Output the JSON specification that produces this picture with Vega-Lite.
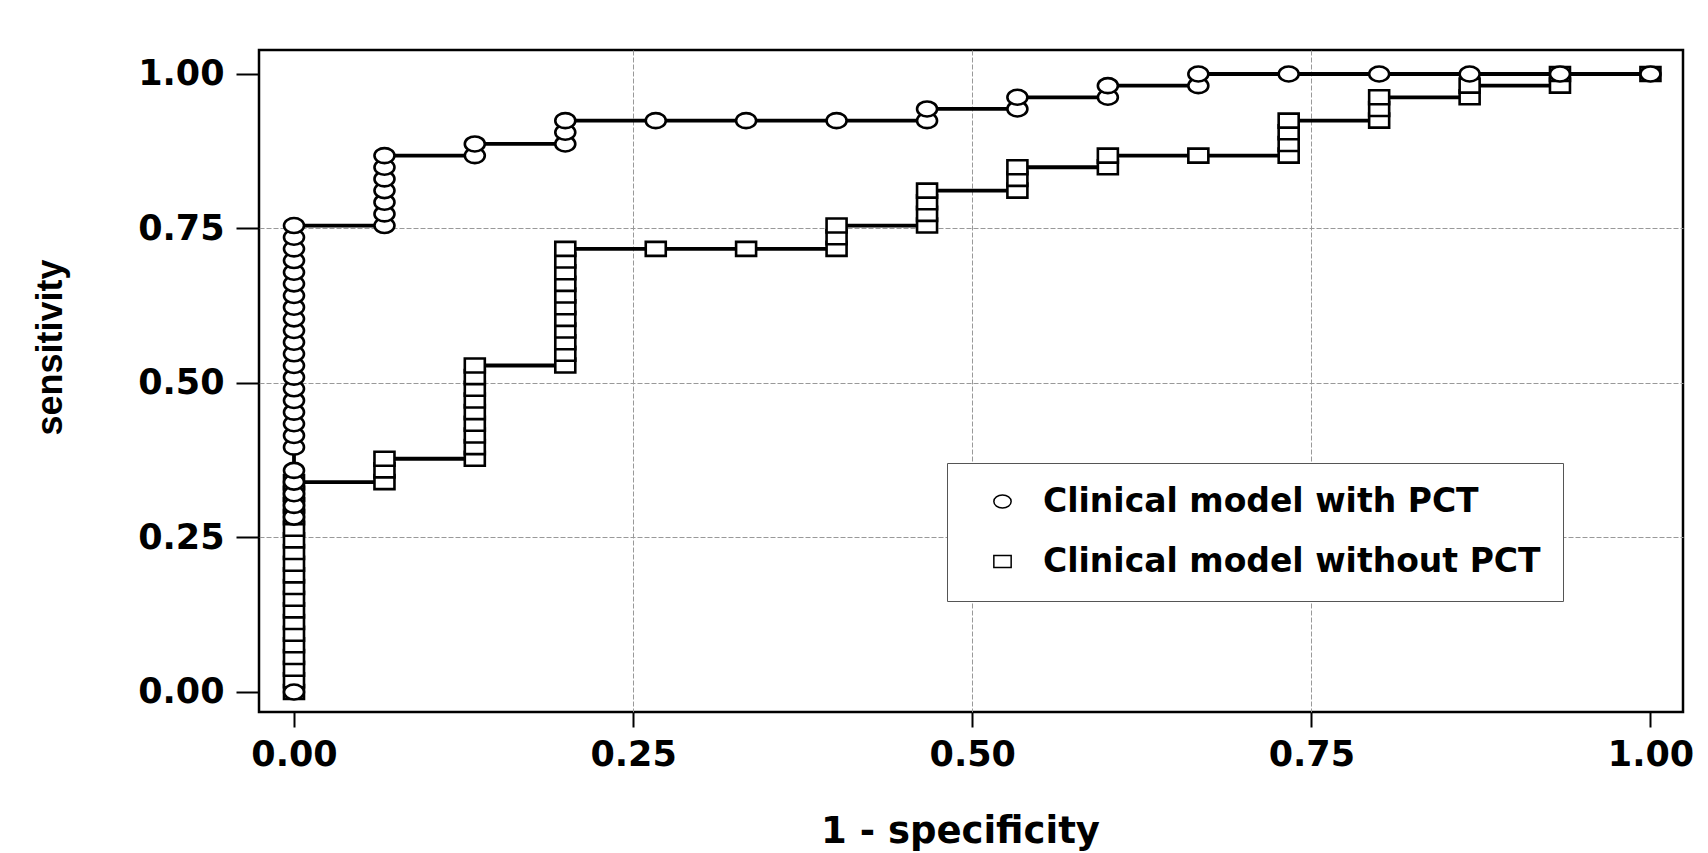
{
  "$schema": "https://vega.github.io/schema/vega-lite/v6.json",
  "width": 1424,
  "height": 662,
  "autosize": {"type": "none"},
  "padding": {"left": 259, "top": 50, "right": 25, "bottom": 141},
  "background": "white",
  "config": {
    "view": {"stroke": "black", "strokeWidth": 2.5},
    "axis": {
      "domain": false,
      "labelFont": "DejaVu Sans",
      "labelFontWeight": "bold",
      "labelFontSize": 35,
      "labelColor": "black",
      "tickColor": "black",
      "tickWidth": 2,
      "grid": true,
      "gridColor": "#999999",
      "gridWidth": 1,
      "gridDash": [5, 2],
      "titleColor": "black"
    }
  },
  "datasets": {
    "roc": [
      {"model": "Clinical model without PCT", "fpr": 0, "sens": 0},
      {"model": "Clinical model without PCT", "fpr": 0, "sens": 0.0189},
      {"model": "Clinical model without PCT", "fpr": 0, "sens": 0.0377},
      {"model": "Clinical model without PCT", "fpr": 0, "sens": 0.0566},
      {"model": "Clinical model without PCT", "fpr": 0, "sens": 0.0755},
      {"model": "Clinical model without PCT", "fpr": 0, "sens": 0.0943},
      {"model": "Clinical model without PCT", "fpr": 0, "sens": 0.1132},
      {"model": "Clinical model without PCT", "fpr": 0, "sens": 0.1321},
      {"model": "Clinical model without PCT", "fpr": 0, "sens": 0.1509},
      {"model": "Clinical model without PCT", "fpr": 0, "sens": 0.1698},
      {"model": "Clinical model without PCT", "fpr": 0, "sens": 0.1887},
      {"model": "Clinical model without PCT", "fpr": 0, "sens": 0.2075},
      {"model": "Clinical model without PCT", "fpr": 0, "sens": 0.2264},
      {"model": "Clinical model without PCT", "fpr": 0, "sens": 0.2453},
      {"model": "Clinical model without PCT", "fpr": 0, "sens": 0.2642},
      {"model": "Clinical model without PCT", "fpr": 0, "sens": 0.2830},
      {"model": "Clinical model without PCT", "fpr": 0, "sens": 0.3019},
      {"model": "Clinical model without PCT", "fpr": 0, "sens": 0.3208},
      {"model": "Clinical model without PCT", "fpr": 0, "sens": 0.3396},
      {"model": "Clinical model without PCT", "fpr": 0.0667, "sens": 0.3396},
      {"model": "Clinical model without PCT", "fpr": 0.0667, "sens": 0.3585},
      {"model": "Clinical model without PCT", "fpr": 0.0667, "sens": 0.3774},
      {"model": "Clinical model without PCT", "fpr": 0.1333, "sens": 0.3774},
      {"model": "Clinical model without PCT", "fpr": 0.1333, "sens": 0.3962},
      {"model": "Clinical model without PCT", "fpr": 0.1333, "sens": 0.4151},
      {"model": "Clinical model without PCT", "fpr": 0.1333, "sens": 0.4340},
      {"model": "Clinical model without PCT", "fpr": 0.1333, "sens": 0.4528},
      {"model": "Clinical model without PCT", "fpr": 0.1333, "sens": 0.4717},
      {"model": "Clinical model without PCT", "fpr": 0.1333, "sens": 0.4906},
      {"model": "Clinical model without PCT", "fpr": 0.1333, "sens": 0.5094},
      {"model": "Clinical model without PCT", "fpr": 0.1333, "sens": 0.5283},
      {"model": "Clinical model without PCT", "fpr": 0.2, "sens": 0.5283},
      {"model": "Clinical model without PCT", "fpr": 0.2, "sens": 0.5472},
      {"model": "Clinical model without PCT", "fpr": 0.2, "sens": 0.5660},
      {"model": "Clinical model without PCT", "fpr": 0.2, "sens": 0.5849},
      {"model": "Clinical model without PCT", "fpr": 0.2, "sens": 0.6038},
      {"model": "Clinical model without PCT", "fpr": 0.2, "sens": 0.6226},
      {"model": "Clinical model without PCT", "fpr": 0.2, "sens": 0.6415},
      {"model": "Clinical model without PCT", "fpr": 0.2, "sens": 0.6604},
      {"model": "Clinical model without PCT", "fpr": 0.2, "sens": 0.6792},
      {"model": "Clinical model without PCT", "fpr": 0.2, "sens": 0.6981},
      {"model": "Clinical model without PCT", "fpr": 0.2, "sens": 0.7170},
      {"model": "Clinical model without PCT", "fpr": 0.2667, "sens": 0.7170},
      {"model": "Clinical model without PCT", "fpr": 0.3333, "sens": 0.7170},
      {"model": "Clinical model without PCT", "fpr": 0.4, "sens": 0.7170},
      {"model": "Clinical model without PCT", "fpr": 0.4, "sens": 0.7358},
      {"model": "Clinical model without PCT", "fpr": 0.4, "sens": 0.7547},
      {"model": "Clinical model without PCT", "fpr": 0.4667, "sens": 0.7547},
      {"model": "Clinical model without PCT", "fpr": 0.4667, "sens": 0.7736},
      {"model": "Clinical model without PCT", "fpr": 0.4667, "sens": 0.7925},
      {"model": "Clinical model without PCT", "fpr": 0.4667, "sens": 0.8113},
      {"model": "Clinical model without PCT", "fpr": 0.5333, "sens": 0.8113},
      {"model": "Clinical model without PCT", "fpr": 0.5333, "sens": 0.8302},
      {"model": "Clinical model without PCT", "fpr": 0.5333, "sens": 0.8491},
      {"model": "Clinical model without PCT", "fpr": 0.6, "sens": 0.8491},
      {"model": "Clinical model without PCT", "fpr": 0.6, "sens": 0.8679},
      {"model": "Clinical model without PCT", "fpr": 0.6667, "sens": 0.8679},
      {"model": "Clinical model without PCT", "fpr": 0.7333, "sens": 0.8679},
      {"model": "Clinical model without PCT", "fpr": 0.7333, "sens": 0.8868},
      {"model": "Clinical model without PCT", "fpr": 0.7333, "sens": 0.9057},
      {"model": "Clinical model without PCT", "fpr": 0.7333, "sens": 0.9245},
      {"model": "Clinical model without PCT", "fpr": 0.8, "sens": 0.9245},
      {"model": "Clinical model without PCT", "fpr": 0.8, "sens": 0.9434},
      {"model": "Clinical model without PCT", "fpr": 0.8, "sens": 0.9623},
      {"model": "Clinical model without PCT", "fpr": 0.8667, "sens": 0.9623},
      {"model": "Clinical model without PCT", "fpr": 0.8667, "sens": 0.9811},
      {"model": "Clinical model without PCT", "fpr": 0.9333, "sens": 0.9811},
      {"model": "Clinical model without PCT", "fpr": 0.9333, "sens": 1},
      {"model": "Clinical model without PCT", "fpr": 1, "sens": 1},
      {"model": "Clinical model with PCT", "fpr": 0, "sens": 0},
      {"model": "Clinical model with PCT", "fpr": 0, "sens": 0.2830},
      {"model": "Clinical model with PCT", "fpr": 0, "sens": 0.3019},
      {"model": "Clinical model with PCT", "fpr": 0, "sens": 0.3208},
      {"model": "Clinical model with PCT", "fpr": 0, "sens": 0.3396},
      {"model": "Clinical model with PCT", "fpr": 0, "sens": 0.3585},
      {"model": "Clinical model with PCT", "fpr": 0, "sens": 0.3962},
      {"model": "Clinical model with PCT", "fpr": 0, "sens": 0.4151},
      {"model": "Clinical model with PCT", "fpr": 0, "sens": 0.4340},
      {"model": "Clinical model with PCT", "fpr": 0, "sens": 0.4528},
      {"model": "Clinical model with PCT", "fpr": 0, "sens": 0.4717},
      {"model": "Clinical model with PCT", "fpr": 0, "sens": 0.4906},
      {"model": "Clinical model with PCT", "fpr": 0, "sens": 0.5094},
      {"model": "Clinical model with PCT", "fpr": 0, "sens": 0.5283},
      {"model": "Clinical model with PCT", "fpr": 0, "sens": 0.5472},
      {"model": "Clinical model with PCT", "fpr": 0, "sens": 0.5660},
      {"model": "Clinical model with PCT", "fpr": 0, "sens": 0.5849},
      {"model": "Clinical model with PCT", "fpr": 0, "sens": 0.6038},
      {"model": "Clinical model with PCT", "fpr": 0, "sens": 0.6226},
      {"model": "Clinical model with PCT", "fpr": 0, "sens": 0.6415},
      {"model": "Clinical model with PCT", "fpr": 0, "sens": 0.6604},
      {"model": "Clinical model with PCT", "fpr": 0, "sens": 0.6792},
      {"model": "Clinical model with PCT", "fpr": 0, "sens": 0.6981},
      {"model": "Clinical model with PCT", "fpr": 0, "sens": 0.7170},
      {"model": "Clinical model with PCT", "fpr": 0, "sens": 0.7358},
      {"model": "Clinical model with PCT", "fpr": 0, "sens": 0.7547},
      {"model": "Clinical model with PCT", "fpr": 0.0667, "sens": 0.7547},
      {"model": "Clinical model with PCT", "fpr": 0.0667, "sens": 0.7736},
      {"model": "Clinical model with PCT", "fpr": 0.0667, "sens": 0.7925},
      {"model": "Clinical model with PCT", "fpr": 0.0667, "sens": 0.8113},
      {"model": "Clinical model with PCT", "fpr": 0.0667, "sens": 0.8302},
      {"model": "Clinical model with PCT", "fpr": 0.0667, "sens": 0.8491},
      {"model": "Clinical model with PCT", "fpr": 0.0667, "sens": 0.8679},
      {"model": "Clinical model with PCT", "fpr": 0.1333, "sens": 0.8679},
      {"model": "Clinical model with PCT", "fpr": 0.1333, "sens": 0.8868},
      {"model": "Clinical model with PCT", "fpr": 0.2, "sens": 0.8868},
      {"model": "Clinical model with PCT", "fpr": 0.2, "sens": 0.9057},
      {"model": "Clinical model with PCT", "fpr": 0.2, "sens": 0.9245},
      {"model": "Clinical model with PCT", "fpr": 0.2667, "sens": 0.9245},
      {"model": "Clinical model with PCT", "fpr": 0.3333, "sens": 0.9245},
      {"model": "Clinical model with PCT", "fpr": 0.4, "sens": 0.9245},
      {"model": "Clinical model with PCT", "fpr": 0.4667, "sens": 0.9245},
      {"model": "Clinical model with PCT", "fpr": 0.4667, "sens": 0.9434},
      {"model": "Clinical model with PCT", "fpr": 0.5333, "sens": 0.9434},
      {"model": "Clinical model with PCT", "fpr": 0.5333, "sens": 0.9623},
      {"model": "Clinical model with PCT", "fpr": 0.6, "sens": 0.9623},
      {"model": "Clinical model with PCT", "fpr": 0.6, "sens": 0.9811},
      {"model": "Clinical model with PCT", "fpr": 0.6667, "sens": 0.9811},
      {"model": "Clinical model with PCT", "fpr": 0.6667, "sens": 1},
      {"model": "Clinical model with PCT", "fpr": 0.7333, "sens": 1},
      {"model": "Clinical model with PCT", "fpr": 0.8, "sens": 1},
      {"model": "Clinical model with PCT", "fpr": 0.8667, "sens": 1},
      {"model": "Clinical model with PCT", "fpr": 0.9333, "sens": 1},
      {"model": "Clinical model with PCT", "fpr": 1, "sens": 1}
    ]
  },
  "data": {"name": "roc"},
  "encoding": {
    "x": {
      "field": "fpr",
      "type": "quantitative",
      "scale": {"domain": [-0.0258, 1.024], "nice": false, "zero": false},
      "axis": {
        "values": [0, 0.25, 0.5, 0.75, 1],
        "format": ".2f",
        "tickSize": 15,
        "labelPadding": 10,
        "gridOpacity": {"condition": {"test": "datum.value === 0 || datum.value === 1", "value": 0}, "value": 1},
        "title": "1 - specificity",
        "titleFont": "DejaVu Sans",
        "titleFontWeight": "bold",
        "titleFontSize": 37,
        "titleX": 701,
        "titleY": 130,
        "titleAlign": "center",
        "titleBaseline": "alphabetic"
      }
    },
    "y": {
      "field": "sens",
      "type": "quantitative",
      "scale": {"domain": [-0.0324, 1.0388], "nice": false, "zero": false},
      "axis": {
        "values": [0, 0.25, 0.5, 0.75, 1],
        "format": ".2f",
        "tickSize": 23,
        "labelPadding": 12,
        "gridOpacity": {"condition": {"test": "datum.value === 0 || datum.value === 1", "value": 0}, "value": 1},
        "title": "sensitivity",
        "titleFont": "Liberation Sans",
        "titleFontWeight": "bold",
        "titleFontSize": 36,
        "titleAngle": -90,
        "titleX": -198,
        "titleY": 297,
        "titleAlign": "center",
        "titleBaseline": "alphabetic"
      }
    }
  },
  "layer": [
    {
      "mark": {"type": "line", "color": "black", "strokeWidth": 3.8},
      "encoding": {
        "detail": {"field": "model", "type": "nominal"},
        "order": {"value": null}
      }
    },
    {
      "mark": {"type": "point", "filled": true, "fill": "white", "stroke": "black", "strokeWidth": 2.6, "size": 400, "opacity": 1},
      "encoding": {
        "shape": {
          "field": "model",
          "type": "nominal",
          "scale": {
            "domain": ["Clinical model with PCT", "Clinical model without PCT"],
            "range": [
              "M1,0C1,0.4142,0.5523,0.75,0,0.75C-0.5523,0.75,-1,0.4142,-1,0C-1,-0.4142,-0.5523,-0.75,0,-0.75C0.5523,-0.75,1,-0.4142,1,0Z",
              "M-1,-0.7H1V0.7H-1Z"
            ]
          },
          "legend": {
            "title": null,
            "orient": "none",
            "legendX": 688,
            "legendY": 413,
            "padding": 22,
            "symbolOffset": 17,
            "symbolSize": 300,
            "labelFont": "DejaVu Sans",
            "labelFontWeight": "bold",
            "labelFontSize": 33,
            "labelColor": "black",
            "labelOffset": 24,
            "labelLimit": 800,
            "rowPadding": 26,
            "strokeColor": "#555555",
            "fillColor": "white",
            "cornerRadius": 0
          }
        }
      }
    }
  ]
}
